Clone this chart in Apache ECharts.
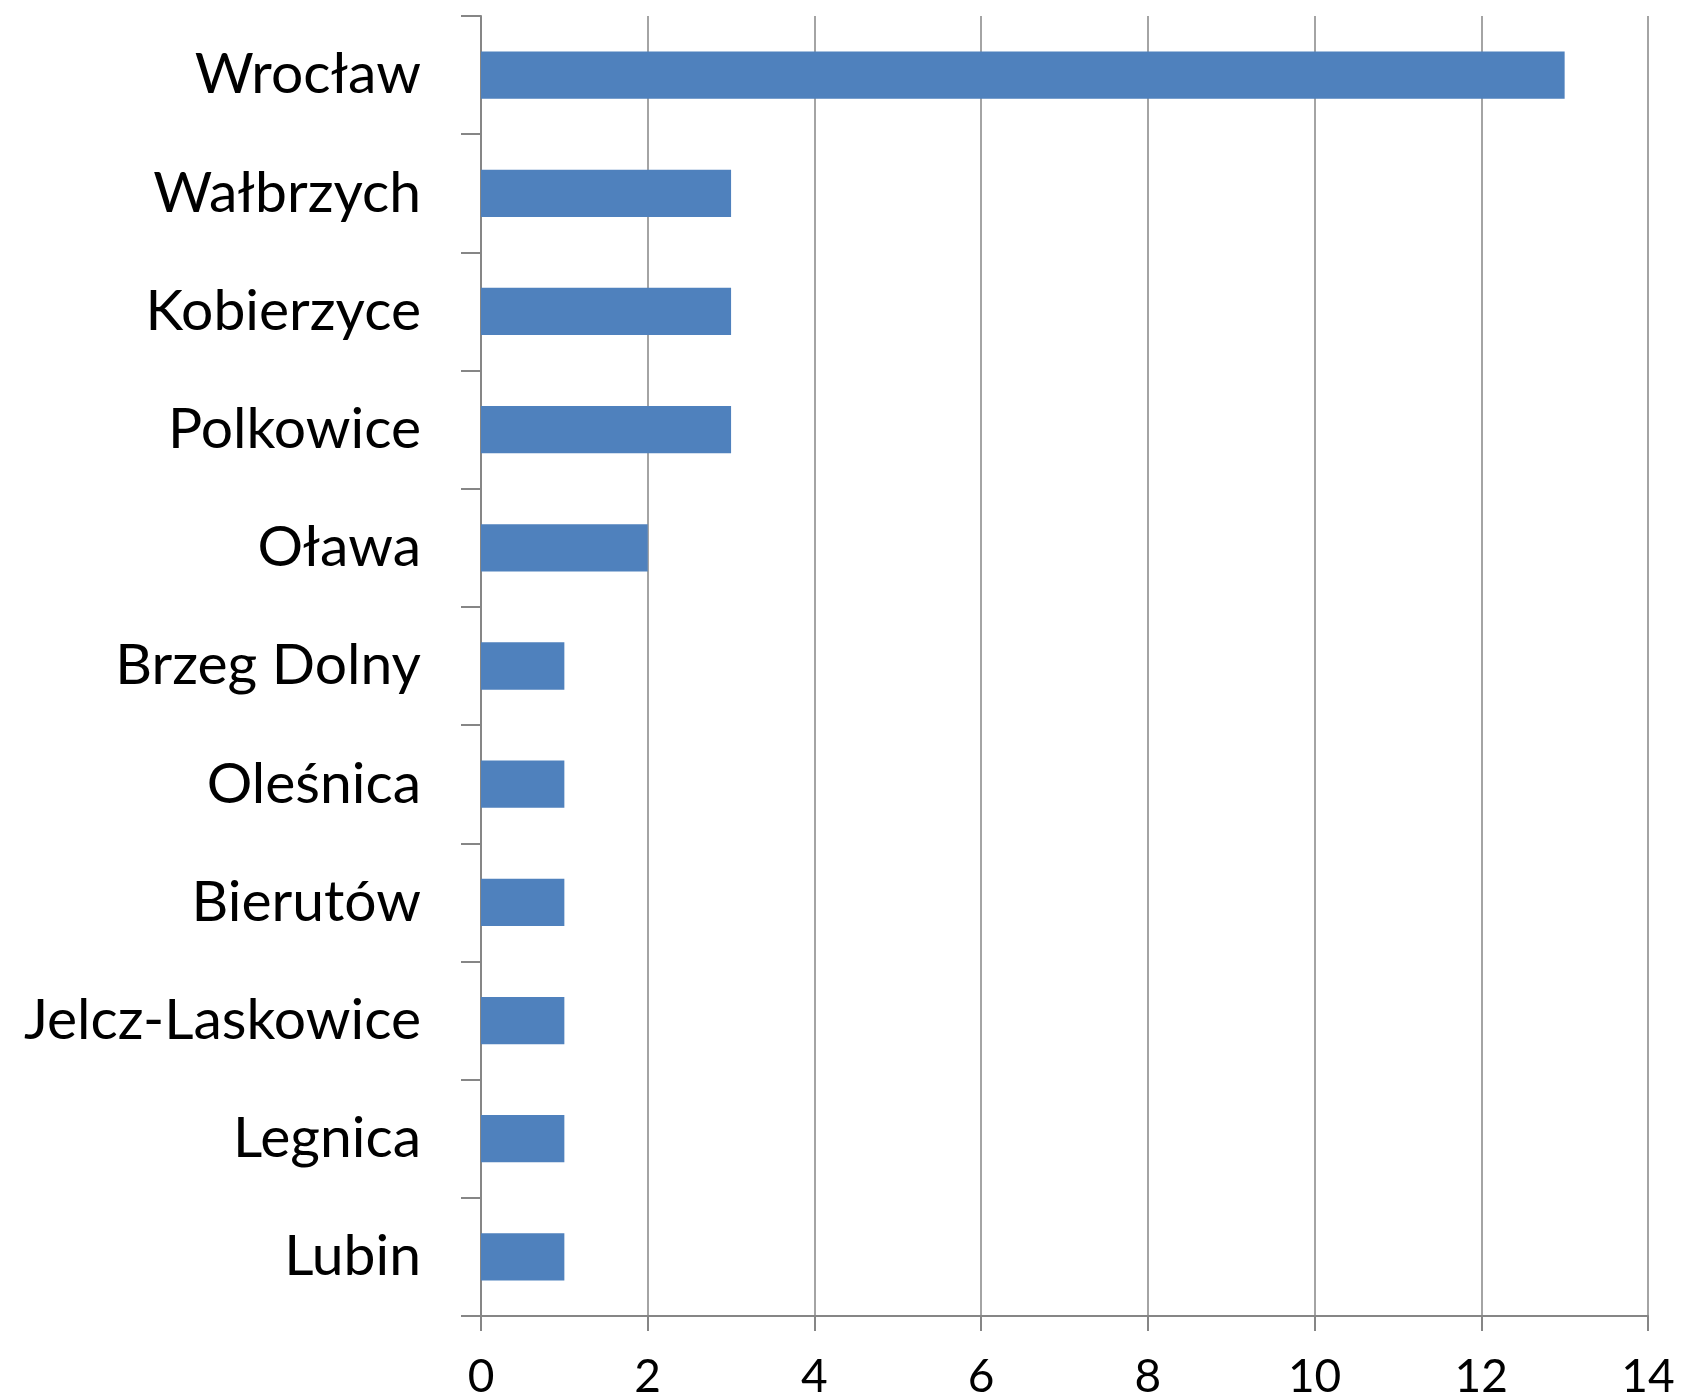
<!DOCTYPE html>
<html>
<head>
<meta charset="utf-8">
<script src="https://cdn.jsdelivr.net/npm/echarts@6/dist/echarts.min.js"></script>
<style>
  html, body { margin: 0; padding: 0; background: #fff; }
  #chart { width: 1681px; height: 1400px; }
</style>
</head>
<body>
<div id="chart"></div>
<script>
const cities = ['Wrocław', 'Wałbrzych', 'Kobierzyce', 'Polkowice', 'Oława', 'Brzeg Dolny',
  'Oleśnica', 'Bierutów', 'Jelcz-Laskowice', 'Legnica', 'Lubin']
const counts = [13, 3, 3, 3, 2, 1, 1, 1, 1, 1, 1]
const xTicks = [0, 2, 4, 6, 8, 10, 12, 14]

const axisGray = '#868686'
const chart = echarts.init(document.getElementById('chart'))

chart.setOption({
  animation: false,
  textStyle: { fontFamily: 'Lato' },
  grid: { left: 481, right: 33, top: 16, bottom: 84, containLabel: false },
  xAxis: {
    type: 'value',
    min: xTicks[0],
    max: xTicks[xTicks.length - 1],
    interval: 2,
    axisLine: { show: true, lineStyle: { color: axisGray, width: 2 } },
    axisTick: { show: true, length: 15, lineStyle: { color: axisGray, width: 2 } },
    splitLine: { show: true, lineStyle: { color: axisGray, width: 1.5 } },
    axisLabel: { color: '#000', fontSize: 46, margin: 38, fontFamily: 'Lato' }
  },
  yAxis: {
    type: 'category',
    inverse: true,
    data: cities,
    axisLine: { show: true, lineStyle: { color: axisGray, width: 2 } },
    axisTick: { show: true, length: 20, lineStyle: { color: axisGray, width: 2 } },
    axisLabel: { color: '#000', fontSize: 57, margin: 60, fontFamily: 'Lato' }
  },
  series: [{
    type: 'bar',
    data: counts,
    barWidth: '40%',
    itemStyle: { color: '#4F81BD' }
  }]
})
</script>
</body>
</html>
